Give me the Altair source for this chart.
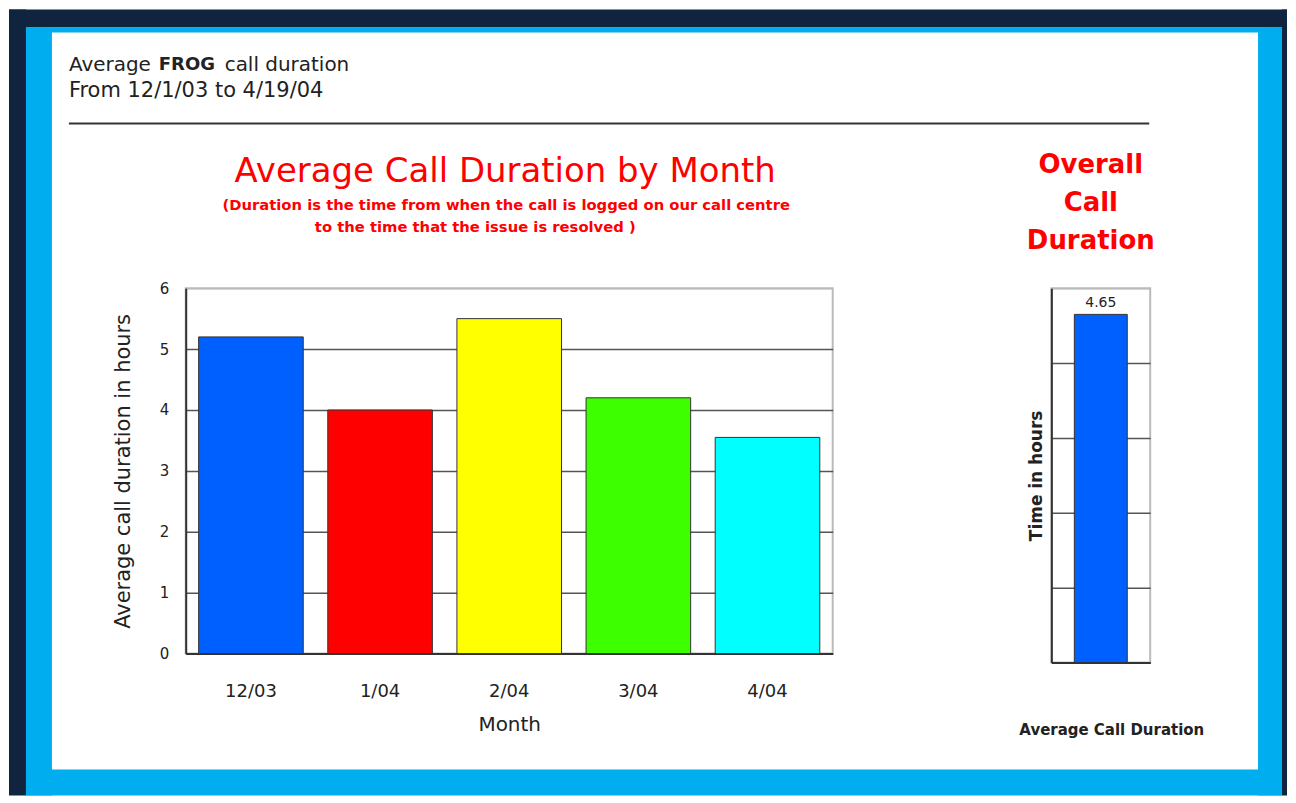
import altair as alt
import pandas as pd

# ---------------- data ----------------
months = ["12/03", "1/04", "2/04", "3/04", "4/04"]
durations = [5.2, 4.0, 5.5, 4.2, 3.55]
bar_colors = ["#0060FF", "#FF0000", "#FFFF00", "#3DFF00", "#00FFFF"]

overall_label = ["Average Call Duration"]
overall_value = [4.65]

y_ticks_month = [0, 1, 2, 3, 4, 5, 6]
y_ticks_overall = [0, 1, 2, 3, 4, 5]

header_words = ["Average", "FROG", "call duration"]
header_line2 = "From 12/1/03 to 4/19/04"
title_main = "Average Call Duration by Month"
subtitle_main = [
    "(Duration is the time from when the call is logged on our call centre",
    "to the time that the issue is resolved )",
]
title_overall = ["Overall", "Call", "Duration"]

# ---------------- style ----------------
FONT = "DejaVu Sans"
NAVY = "#10233F"
FRAME_BLUE = "#00AEEF"
RED = "#FF0000"
TXT = "#222222"

# page position of the left plot origin
OX, OY = 185, 287


def px(x):
    return x - OX


def py(y):
    return y - OY


one = pd.DataFrame({"_": [0]})


def strip(x0, y0, x1, y1, color):
    return alt.Chart(one).mark_rect(color=color).encode(
        x=alt.value(px(x0)), x2=alt.value(px(x1)),
        y=alt.value(py(y0)), y2=alt.value(py(y1)),
    )


def label(text, x, y, size, weight="normal", color=TXT, align="left"):
    return alt.Chart(one).mark_text(
        text=text, align=align, baseline="middle", fontSize=size,
        fontWeight=weight, color=color, font=FONT,
    ).encode(x=alt.value(px(x)), y=alt.value(py(y)))


frame = [
    strip(8, 8, 1288, 26, NAVY),
    strip(8, 8, 25, 795, NAVY),
    strip(1283, 8, 1288, 795, NAVY),
    strip(25, 26, 1283, 31, FRAME_BLUE),
    strip(25, 26, 51, 795, FRAME_BLUE),
    strip(1259, 26, 1283, 795, FRAME_BLUE),
    strip(25, 769, 1283, 795, FRAME_BLUE),
]

header = [
    label(header_words[0], 68, 63, 20),
    label(header_words[1], 158, 63, 18, "bold"),
    label(header_words[2], 224, 63, 20),
    label(header_line2, 68, 90, 21),
    alt.Chart(one).mark_rule(color="#333333", strokeWidth=2).encode(
        x=alt.value(px(68)), x2=alt.value(px(1150)), y=alt.value(py(122))
    ),
]

titles = [
    label(title_main, 505, 171, 34, color=RED, align="center"),
    label(subtitle_main[0], 506, 205, 14.8, "bold", color=RED, align="center"),
    label(subtitle_main[1], 475, 227, 14.8, "bold", color=RED, align="center"),
]

df = pd.DataFrame({"month": months, "duration": durations})

bars = alt.Chart(df).mark_bar(stroke="#333333", strokeWidth=1).encode(
    x=alt.X(
        "month:N", sort=months,
        scale=alt.Scale(paddingInner=0.19, paddingOuter=0.1),
        axis=alt.Axis(
            title="Month", labelAngle=0, labelFontSize=18, labelPadding=29,
            ticks=False, domainColor="#333333", domainWidth=2,
            titleFontSize=20, titleFontWeight="normal", titlePadding=14,
            labelColor=TXT, titleColor=TXT, grid=False,
        ),
    ),
    y=alt.Y(
        "duration:Q",
        scale=alt.Scale(domain=[0, 6], nice=False),
        axis=alt.Axis(
            values=y_ticks_month, title="Average call duration in hours",
            labelFontSize=15, labelPadding=17, ticks=False,
            domainColor="#333333", domainWidth=2,
            titleFontSize=21, titleFontWeight="normal", titlePadding=26,
            labelColor=TXT, titleColor=TXT, grid=True, gridWidth=1.5,
            gridColor=alt.condition("datum.value == 6", alt.value("#bbbbbb"), alt.value("#555555")),
        ),
    ),
    color=alt.Color("month:N", scale=alt.Scale(domain=months, range=bar_colors), legend=None),
)

left = alt.layer(*frame, *header, *titles, bars).properties(width=648, height=366)

odf = pd.DataFrame({"label": overall_label, "value": overall_value})

obar = alt.Chart(odf).mark_bar(color="#0060FF", stroke="#333333", strokeWidth=1).encode(
    x=alt.X(
        "label:N",
        scale=alt.Scale(paddingInner=0, paddingOuter=0.434),
        axis=alt.Axis(
            labels=False, ticks=False, title=overall_label[0],
            domainColor="#333333", domainWidth=2,
            titleFontSize=15, titleFontWeight="bold", titleColor=TXT,
            titleX=60, titleY=67, titleBaseline="middle",
        ),
    ),
    y=alt.Y(
        "value:Q",
        scale=alt.Scale(domain=[0, 5], nice=False),
        axis=alt.Axis(
            values=y_ticks_overall, labels=False, ticks=False,
            title="Time in hours", titleFontSize=17, titleFontWeight="bold",
            titleColor=TXT, titlePadding=6,
            domainColor="#333333", domainWidth=2,
            grid=True, gridWidth=1.5,
            gridColor=alt.condition("datum.value == 5", alt.value("#bbbbbb"), alt.value("#555555")),
        ),
    ),
)

otext = obar.mark_text(
    baseline="bottom", dy=-4, fontSize=14, color=TXT, font=FONT
).encode(text=alt.Text("value:Q", format=".2f"))

right = alt.layer(obar, otext).properties(
    width=99, height=375,
    title=alt.TitleParams(
        text=title_overall, color=RED, fontSize=26, fontWeight="bold", font=FONT,
        lineHeight=38, anchor="middle", frame="group", offset=34, dx=-10,
    ),
)

chart = alt.hconcat(left, right, spacing=219, bounds="flush").configure(
    font=FONT, background="white", padding=0
).configure_view(stroke="#bbbbbb", strokeWidth=2)

chart.save("out.html", embed_options={"renderer": "svg", "actions": False})
